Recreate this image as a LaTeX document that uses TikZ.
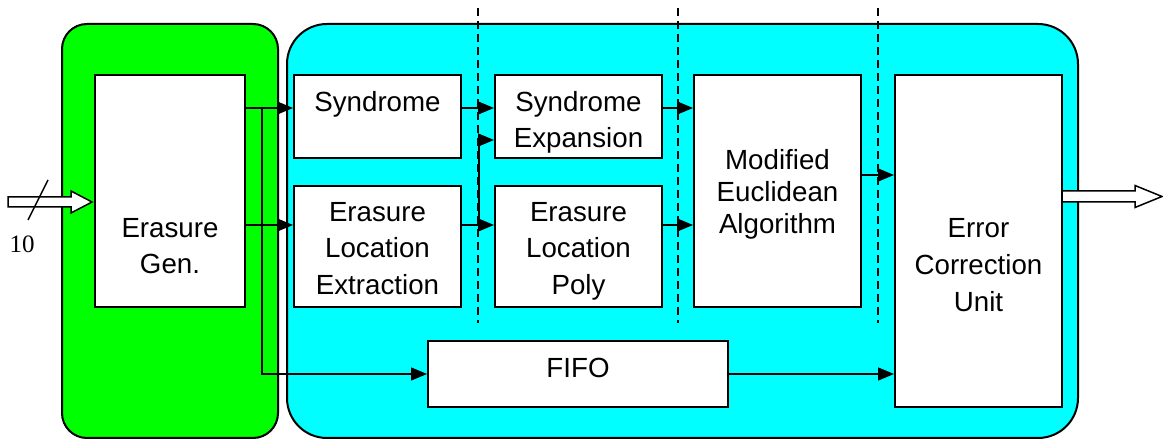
\documentclass[tikz,border=0pt]{standalone}
\usepackage{fontspec}
\setmainfont{Liberation Sans}
\newfontfamily\numfont{Liberation Serif}
\usetikzlibrary{arrows.meta,calc}
\definecolor{gr}{RGB}{0,255,0}
\definecolor{cy}{RGB}{0,255,255}
\tikzset{
  box/.style={draw=black, fill=white, line width=2pt, inner sep=0pt},
  txt/.style={anchor=north, align=center, inner sep=0pt, font=\fontsize{27.7}{36.5}\selectfont},
  arr/.style={line width=1.5pt, -{Triangle[length=16pt,width=13pt]}},
  conn/.style={line width=1.5pt},
  stage/.style={line width=2pt, dash pattern=on 8pt off 5pt},
  region/.style={draw=black, line width=2pt}
}
\begin{document}
\begin{tikzpicture}[x=1pt,y=-1pt]
\useasboundingbox (0,0) rectangle (1163,443);
% regions
\draw[region, fill=gr, rounded corners=25pt] (62,24) rectangle (278,438);
\draw[region, fill=cy, rounded corners=40pt] (287,24) rectangle (1078,438);
% stage separators
\draw[stage] (478,8) -- (478,323);
\draw[stage] (678,8) -- (678,323);
\draw[stage] (878,8) -- (878,323);
% boxes
\node[box, minimum width=150pt, minimum height=232pt] (eg) at (170,191) {};
\node[box, minimum width=167pt, minimum height=83pt] (syn) at (377.5,116.5) {};
\node[box, minimum width=167pt, minimum height=121pt] (elx) at (377.5,246.5) {};
\node[box, minimum width=167pt, minimum height=83pt] (sex) at (578.5,116.5) {};
\node[box, minimum width=167pt, minimum height=121pt] (elp) at (578.5,246.5) {};
\node[box, minimum width=167pt, minimum height=232pt] (mea) at (777.5,191) {};
\node[box, minimum width=167pt, minimum height=332pt] (ecu) at (978.5,241) {};
\node[box, minimum width=300pt, minimum height=66pt] (fifo) at (578,374) {};
% texts
\node[txt] (teg) at (170,216) {\rule{0pt}{21pt}Erasure\\Gen.};
\node[txt] (tsyn) at (377.5,90) {\rule{0pt}{21pt}Syndrome};
\node[txt, font=\fontsize{27.7}{36}\selectfont] (tsex) at (578.5,90) {\rule{0pt}{21pt}Syndrome\\Expansion};
\node[txt] (telx) at (377.5,200) {\rule{0pt}{21pt}Erasure\\Location\\Extraction};
\node[txt] (telp) at (578.5,200) {\rule{0pt}{21pt}Erasure\\Location\\Poly};
\node[txt, font=\fontsize{27.7}{32}\selectfont] (tmea) at (777.5,148) {\rule{0pt}{21pt}Modified\\Euclidean\\Algorithm};
\node[txt, font=\fontsize{27.7}{37}\selectfont] (tecu) at (978.5,216) {\rule{0pt}{21pt}Error\\Correction\\Unit};
\node[txt] (tfifo) at (578,356) {\rule{0pt}{21pt}FIFO};
% routing coordinates
\coordinate (r1) at (0,108);
\coordinate (r2) at (0,225);
\coordinate (r3) at (0,140);
\coordinate (r4) at (0,175);
\coordinate (c1) at (262,0);
\coordinate (c2) at (479,0);
\coordinate (in) at (8,202);
\coordinate (out) at (1162,196.5);
% connectors
\draw[arr] (eg.east |- r1) -- (syn.west |- r1);
\draw[arr] (eg.east |- r2) -- (elx.west |- r2);
\draw[arr] (c1 |- r1) |- (fifo.west);
\draw[arr] (syn.east |- r1) -- (sex.west |- r1);
\draw[arr] (elx.east |- r2) -- (elp.west |- r2);
\draw[arr] (c2 |- r2) |- (sex.west |- r3);
\draw[arr] (sex.east |- r1) -- (mea.west |- r1);
\draw[arr] (elp.east |- r2) -- (mea.west |- r2);
\draw[arr] (mea.east |- r4) -- (ecu.west |- r4);
\draw[arr] (fifo.east) -- (ecu.west |- fifo.east);
% input bus arrow
\draw[line width=1.5pt, fill=white, line join=miter]
  ($(in)+(0,-5)$) -- ($(eg.west|-in)+(-23,-5)$) -- ($(eg.west|-in)+(-23,-11)$)
  -- ($(eg.west|-in)+(-2,0)$) -- ($(eg.west|-in)+(-23,11)$) -- ($(eg.west|-in)+(-23,5)$)
  -- ($(in)+(0,5)$) -- cycle;
\draw[line width=1.5pt] (28,220) -- (48,180);
\node[inner sep=0pt, font=\numfont\fontsize{25}{25}\selectfont] (bw) at (22,244) {10};
% output bus arrow
\draw[line width=1.5pt, fill=white, line join=miter]
  ($(ecu.east|-out)+(0,-5.5)$) -- ($(out)+(-27,-5.5)$) -- ($(out)+(-27,-11)$)
  -- (out) -- ($(out)+(-27,11)$) -- ($(out)+(-27,5.5)$)
  -- ($(ecu.east|-out)+(0,5.5)$);
\end{tikzpicture}
\end{document}
